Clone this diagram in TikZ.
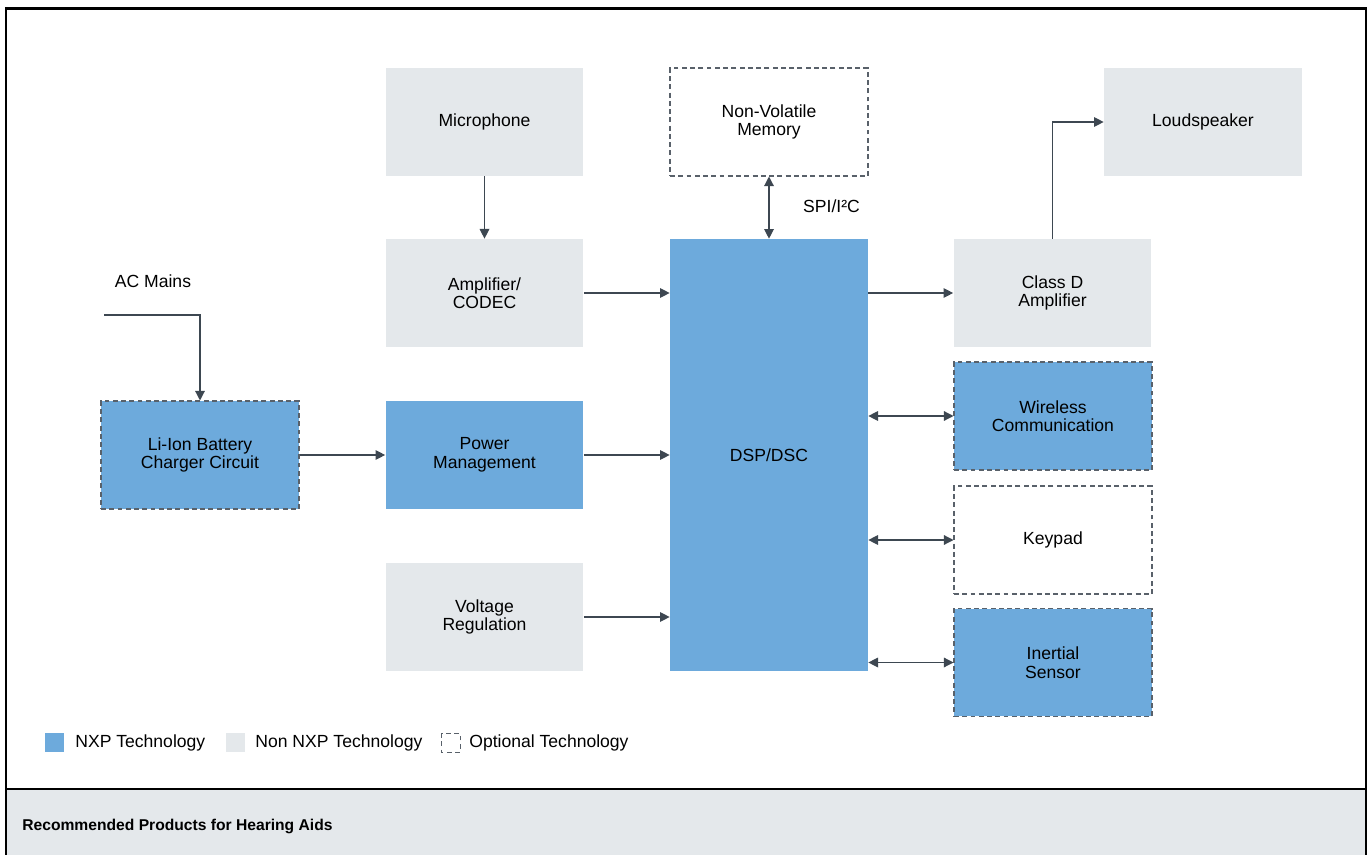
\documentclass[tikz,border=0pt]{standalone}
\usepackage{fontspec}
\setmainfont{Liberation Sans}
\usetikzlibrary{arrows.meta}
\definecolor{nxpblue}{HTML}{6DAADC}
\definecolor{nonnxp}{HTML}{E4E8EB}
\definecolor{wirecol}{HTML}{3D4751}
\definecolor{edgecol}{HTML}{59616A}
\begin{document}
\begin{tikzpicture}[x=0.02cm,y=-0.02cm,
    font=\fontsize{10}{10.5}\selectfont,
    blk/.style={minimum width=3.96cm,minimum height=2.16cm,align=center,inner sep=0pt},
    nxp/.style={blk,fill=nxpblue},
    other/.style={blk,fill=nonnxp},
    option/.style={draw=edgecol,line width=0.6pt,dash pattern=on 2.8pt off 1.9pt},
    wire/.style={draw=wirecol,line width=0.7pt,-{Triangle[length=5.5pt,width=5.5pt]}},
    both/.style={wire,{Triangle[length=5.5pt,width=5.5pt]}-{Triangle[length=5.5pt,width=5.5pt]}}]

    \useasboundingbox (0,0) rectangle (1367,855);

    % frame and banner
    \fill[nonnxp] (6,789) rectangle (1366,855);
    \draw[line width=1pt] (6,855) -- (6,9) -- (1366,9) -- (1366,855);
    \draw[line width=1.7pt] (5,8.5) -- (1367,8.5);
    \draw[line width=0.9pt] (6,789) -- (1366,789);
    \node[anchor=west,inner sep=0pt,font=\fontsize{8.9}{10}\selectfont\bfseries] (title) at (22,826) {Recommended Products for Hearing Aids};

    % blocks
    \node[other] (mic) at (484.5,122) {Microphone};
    \node[blk,option] (nvm) at (769,122) {Non-Volatile\\Memory};
    \node[other] (spk) at (1203,122) {Loudspeaker};
    \node[other] (amp) at (484.5,293) {Amplifier/\\CODEC};
    \node[nxp,minimum height=8.64cm] (dsp) at (769,455) {DSP/DSC};
    \node[other] (cls) at (1052.5,293) {Class D\\Amplifier};
    \node[nxp,option] (wls) at (1053,416) {Wireless\\Communication};
    \node[blk,option] (key) at (1053,540) {Keypad};
    \node[nxp,option] (imu) at (1053,662.5) {Inertial\\Sensor};
    \node[nxp,option] (chg) at (200,455) {Li-Ion Battery\\Charger Circuit};
    \node[nxp] (pwr) at (484.5,455) {Power\\Management};
    \node[other] (vreg) at (484.5,617) {Voltage\\Regulation};

    % connections
    \node (ac) at (153,281) {AC Mains};
    \coordinate (acin) at (104,315);
    \draw[wire] (acin) -| (chg.north);
    \draw[wire] (chg) -- (pwr);
    \draw[wire] (mic) -- (amp);
    \draw[wire] (amp.east) -- (amp.east -| dsp.west);
    \draw[wire] (pwr.east) -- (pwr.east -| dsp.west);
    \draw[wire] (vreg.east) -- (vreg.east -| dsp.west);
    \draw[both] (nvm) -- (dsp);
    \node[anchor=west] (spi) at (797,206) {SPI/I²C};
    \draw[wire] (cls.west -| dsp.east) -- (cls.west);
    \draw[wire] (cls.north) |- (spk.west);
    \draw[both] (wls.west -| dsp.east) -- (wls.west);
    \draw[both] (key.west -| dsp.east) -- (key.west);
    \draw[both] (imu.west -| dsp.east) -- (imu.west);

    % legend
    \fill[nxpblue] (45,733) rectangle (64,752);
    \node[anchor=west,inner sep=0pt] (lnxp) at (75,743) {NXP Technology};
    \fill[nonnxp] (226,733) rectangle (245,752);
    \node[anchor=west,inner sep=0pt] (lnon) at (255,743) {Non NXP Technology};
    \draw[option,line width=0.5pt] (441,733) rectangle (460,752);
    \node[anchor=west,inner sep=0pt] (lopt) at (469,743) {Optional Technology};
\end{tikzpicture}
\end{document}
